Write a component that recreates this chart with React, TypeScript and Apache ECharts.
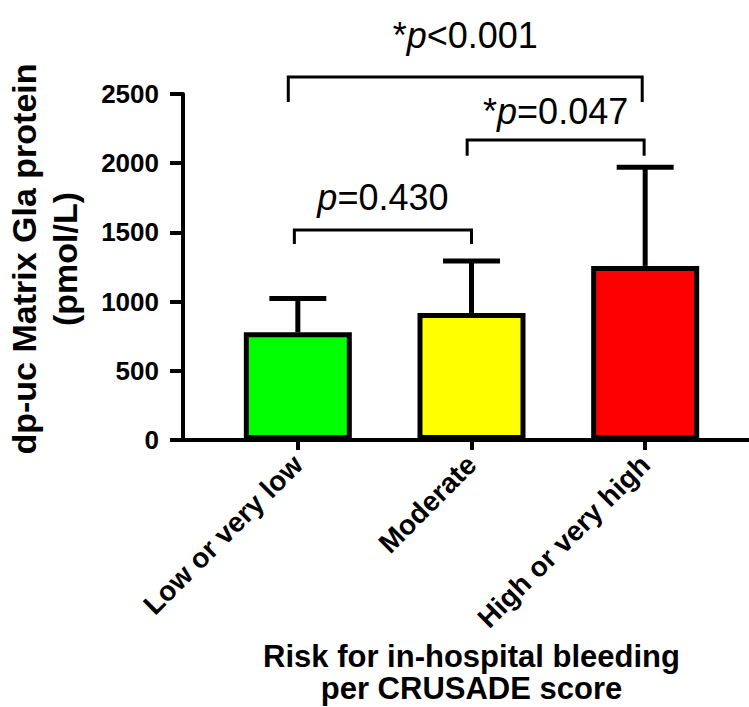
import React, { useEffect, useRef } from "react";
import * as echarts from "echarts";

const FONT = "'Liberation Sans', Arial, Helvetica, sans-serif";

const categories = ["Low or very low", "Moderate", "High or very high"];
const means = [778, 918, 1258];
const upperSD = [1022, 1293, 1970];
const barColors = ["#00ff00", "#ffff00", "#ff0000"];

const yMin = 0;
const yMax = 2500;
const yInterval = 500;

// significance brackets (order: overall, moderate vs high, low vs moderate)
const bracketFrom = [0, 1, 0];
const bracketTo = [2, 2, 1];
const bracketFromShift = [-0.055, -0.025, -0.02];
const bracketToShift = [-0.017, -0.006, 0];
const bracketLevel = [2623, 2168, 1517];
const bracketLegEnd = [2442, 2054, 1416];
const pTextLevel = [2926, 2370, 1752];
const pStar = ["*", "*", ""];
const pRest = ["<0.001", "=0.047", "=0.430"];

const yTitle = "dp-uc Matrix Gla protein\n(pmol/L)";
const xTitle = "Risk for in-hospital bleeding\nper CRUSADE score";

export default function App() {
  const ref = useRef<HTMLDivElement>(null);

  useEffect(() => {
    if (!ref.current) return;
    const chart = echarts.init(ref.current, undefined, { renderer: "svg" });

    const gridTop = 94;
    const gridBottom = 267;

    const option: any = {
      animation: false,
      backgroundColor: "#ffffff",
      textStyle: { fontFamily: FONT },
      grid: [
        { left: 211, right: 17, top: gridTop, bottom: gridBottom, containLabel: false, outerBoundsMode: "none" },
        { left: 183, right: 0, top: gridTop, bottom: gridBottom, containLabel: false, outerBoundsMode: "none" },
      ],
      xAxis: [
        {
          type: "category",
          gridIndex: 0,
          data: categories,
          axisLine: { show: false },
          axisTick: {
            show: true,
            alignWithLabel: true,
            length: 10,
            lineStyle: { color: "#000", width: 4 },
          },
          axisLabel: {
            rotate: 45,
            margin: 20,
            color: "#000",
            fontSize: 28,
            fontWeight: "bold",
            fontFamily: FONT,
          },
          name: xTitle,
          nameLocation: "middle",
          nameGap: 200,
          nameTextStyle: {
            color: "#000",
            fontSize: 31,
            fontWeight: "bold",
            fontFamily: FONT,
            lineHeight: 32,
            verticalAlign: "top",
          },
        },
        {
          type: "value",
          gridIndex: 1,
          min: 0,
          max: 1,
          axisLine: { show: true, lineStyle: { color: "#000", width: 4 } },
          axisTick: { show: false },
          axisLabel: { show: false },
          splitLine: { show: false },
        },
      ],
      yAxis: [
        {
          type: "value",
          gridIndex: 0,
          min: yMin,
          max: yMax,
          interval: yInterval,
          show: false,
          splitLine: { show: false },
        },
        {
          type: "value",
          gridIndex: 1,
          min: yMin,
          max: yMax,
          interval: yInterval,
          axisLine: { show: true, lineStyle: { color: "#000", width: 4 } },
          axisTick: { show: true, length: 13, lineStyle: { color: "#000", width: 4 } },
          axisLabel: {
            margin: 24,
            color: "#000",
            fontSize: 26,
            fontWeight: "bold",
            fontFamily: FONT,
            formatter: (v: number) => String(v),
          },
          splitLine: { show: false },
          name: yTitle,
          nameLocation: "middle",
          nameRotate: 90,
          nameGap: 98,
          nameTextStyle: {
            color: "#000",
            fontSize: 34,
            fontWeight: "bold",
            fontFamily: FONT,
            lineHeight: 41,
            padding: [0, 0, 0, 16],
          },
        },
      ],
      series: [
        {
          type: "bar",
          xAxisIndex: 0,
          yAxisIndex: 0,
          barWidth: 108,
          z: 3,
          data: means.map((v, i) => ({
            value: v,
            itemStyle: { color: barColors[i], borderColor: "#000", borderWidth: 5 },
          })),
        },
        {
          type: "custom",
          xAxisIndex: 0,
          yAxisIndex: 0,
          z: 2,
          clip: false,
          data: means.map((m, i) => [i, m, upperSD[i]]),
          renderItem: (params: any, api: any) => {
            const band = api.size([1, 0])[0];
            const half = band * 0.164;
            const top = api.coord([api.value(0), api.value(2)]);
            const bottom = api.coord([api.value(0), api.value(1)]);
            return {
              type: "group",
              children: [
                {
                  type: "line",
                  shape: { x1: top[0], y1: bottom[1], x2: top[0], y2: top[1] },
                  style: { stroke: "#000", lineWidth: 5 },
                },
                {
                  type: "line",
                  shape: { x1: top[0] - half, y1: top[1], x2: top[0] + half, y2: top[1] },
                  style: { stroke: "#000", lineWidth: 5 },
                },
              ],
            };
          },
        },
        {
          type: "custom",
          xAxisIndex: 0,
          yAxisIndex: 0,
          z: 4,
          clip: false,
          data: bracketFrom.map((f, i) => [
            f,
            bracketTo[i],
            bracketLevel[i],
            bracketLegEnd[i],
            pTextLevel[i],
            bracketFromShift[i],
            bracketToShift[i],
          ]),
          renderItem: (params: any, api: any) => {
            const i = params.dataIndex;
            const band = api.size([1, 0])[0];
            const p1 = api.coord([api.value(0), api.value(2)]);
            const p2 = api.coord([api.value(1), api.value(2)]);
            const legY = api.coord([api.value(0), api.value(3)])[1];
            const textY = api.coord([api.value(0), api.value(4)])[1];
            const x1 = p1[0] + api.value(5) * band;
            const x2 = p2[0] + api.value(6) * band;
            const y = p1[1];
            const star = pStar[i] ? "{n|" + pStar[i] + "}" : "";
            return {
              type: "group",
              children: [
                {
                  type: "polyline",
                  shape: { points: [[x1, legY], [x1, y], [x2, y], [x2, legY]] },
                  style: { stroke: "#000", lineWidth: 3, fill: null },
                },
                {
                  type: "text",
                  x: (x1 + x2) / 2,
                  y: textY,
                  style: {
                    text: star + "{i|p}{n|" + pRest[i] + "}",
                    align: "center",
                    verticalAlign: "middle",
                    fill: "#000",
                    font: "36px " + FONT,
                    rich: {
                      n: { fontSize: 36, fontFamily: FONT, fill: "#000" },
                      i: { fontSize: 36, fontFamily: FONT, fontStyle: "italic", fill: "#000" },
                    },
                  },
                },
              ],
            };
          },
        },
      ],
    };

    chart.setOption(option);
    return () => {
      chart.dispose();
    };
  }, []);

  return (
    <div
      ref={ref}
      style={{ position: "absolute", left: 0, top: 0, width: 749, height: 707, background: "#fff" }}
    />
  );
}
